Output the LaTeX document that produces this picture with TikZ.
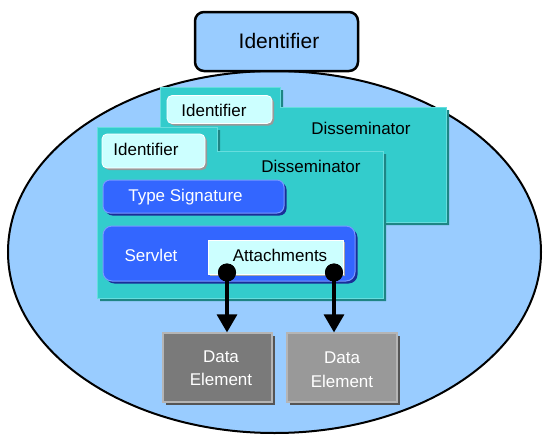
\documentclass[tikz,border=0pt]{standalone}
\usepackage{fontspec}
\setmainfont{Liberation Sans}
\usetikzlibrary{arrows.meta,shadows,shapes.geometric}
\definecolor{skyb}{HTML}{99CCFF}
\definecolor{tealf}{HTML}{33CCCC}
\definecolor{tealdk}{HTML}{1E8585}
\definecolor{tealhl}{HTML}{66DDDD}
\definecolor{lcyan}{HTML}{CCFFFF}
\definecolor{blu}{HTML}{3366FF}
\definecolor{bluhl}{HTML}{7799FF}
\definecolor{bludk}{HTML}{1A2E99}
\definecolor{greyA}{HTML}{7A7A7A}
\definecolor{greyB}{HTML}{999999}
\definecolor{greyhl}{HTML}{B5B5B5}
\definecolor{greydk}{HTML}{555555}
\begin{document}
\begin{tikzpicture}[x=1pt,y=-1pt,
  txt/.style={font=\fontsize{17}{18}\selectfont, inner sep=0pt},
  wtxt/.style={txt, text=white},
  idbox/.style={rectangle, rounded corners=5pt, fill=lcyan, draw=white, line width=0.8pt,
     general shadow={shadow xshift=2pt, shadow yshift=-2pt, fill=gray!80}},
  bluebox/.style={rectangle, rounded corners=7pt, fill=blu, draw=bluhl, line width=1pt,
     general shadow={shadow xshift=2.5pt, shadow yshift=-2.5pt, fill=bludk}},
  databox/.style={rectangle, draw=greyhl, line width=1.2pt,
     general shadow={shadow xshift=3pt, shadow yshift=-3pt, fill=greydk}},
  panel/.style={fill=tealf, draw=tealhl, line width=1pt},
  panelsh/.style={fill=tealdk},
  dot/.style={circle, fill=black, minimum size=18pt, inner sep=0pt},
  conn/.style={line width=3.2pt, -{Triangle[width=20pt,length=18pt]}}
]
\useasboundingbox (0,0) rectangle (544,439);
% big ellipse
\node[ellipse, draw=black, line width=2pt, fill=skyb, minimum width=533pt, minimum height=362pt, inner sep=0pt] (world) at (274.5,252) {};
% top identifier
\node[rectangle, rounded corners=9pt, draw=black, line width=2.5pt, fill=skyb,
      minimum width=163pt, minimum height=59pt, inner sep=0pt] (topid) at (276.5,41.5) {};
\node[txt, font=\fontsize{21}{22}\selectfont] (topidt) at (279,41) {Identifier};
% back disseminator panel
\fill[panelsh] (163,90) -- (283,90) -- (283,110) -- (449,110) -- (449,225) -- (163,225) -- cycle;
\path[panel] (160,87) -- (280,87) -- (280,107) -- (446,107) -- (446,222) -- (160,222) -- cycle;
\node[idbox, minimum width=105pt, minimum height=28pt, inner sep=0pt] (backid) at (219.5,109.5) {};
\node[txt] (backidt) at (214,110) {Identifier};
\node[txt] (backdis) at (361,128) {Disseminator};
% front disseminator panel
\fill[panelsh] (100,130) -- (220,130) -- (220,154) -- (386,154) -- (386,301) -- (100,301) -- cycle;
\path[panel] (97,127) -- (217,127) -- (217,151) -- (383,151) -- (383,298) -- (97,298) -- cycle;
\node[idbox, minimum width=103pt, minimum height=34pt, inner sep=0pt] (frontid) at (153.5,151) {};
\node[txt] (frontidt) at (146,149) {Identifier};
\node[txt] (frontdis) at (311,166) {Disseminator};
% type signature
\node[bluebox, minimum width=181pt, minimum height=33pt, inner sep=0pt] (typesig) at (193.5,196.5) {};
\node[wtxt] (typesigt) at (185.5,197) {Type Signature};
% servlet
\node[bluebox, rounded corners=9pt, minimum width=252pt, minimum height=55pt, inner sep=0pt] (servlet) at (229,253.5) {};
\node[wtxt] (servlett) at (151,255) {Servlet};
% attachments
\node[rectangle, fill=lcyan, draw=white, line width=0.8pt, minimum width=135pt, minimum height=34pt, inner sep=0pt,
      general shadow={shadow xshift=2pt, shadow yshift=-2pt, fill=gray!70}] (attach) at (275.5,257) {};
\node[txt] (attacht) at (280,255) {Attachments};
% dots
\node[dot] (d1) at (227,272.5) {};
\node[dot] (d2) at (334,272.5) {};
% data elements
\node[databox, fill=greyA, minimum width=109pt, minimum height=69pt, inner sep=0pt] (de1) at (217.5,367.5) {};
\node[wtxt, align=center, font=\fontsize{17}{23}\selectfont] (de1t) at (221,368.5) {Data\\Element};
\node[databox, fill=greyB, minimum width=110pt, minimum height=69pt, inner sep=0pt] (de2) at (342,367.5) {};
\node[wtxt, align=center, font=\fontsize{17}{24}\selectfont] (de2t) at (342,370) {Data\\Element};
% connectors
\draw[conn] (d1.center) -- (d1.center |- de1.north);
\draw[conn] (d2.center) -- (d2.center |- de2.north);
\node[dot] at (d1) {};
\node[dot] at (d2) {};
\end{tikzpicture}
\end{document}
